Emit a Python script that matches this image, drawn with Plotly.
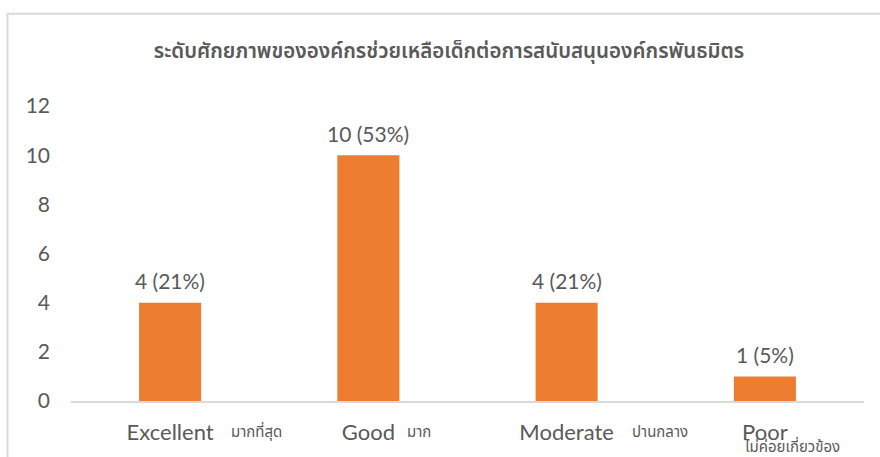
import plotly.graph_objects as go

categories = ["Excellent", "Good", "Moderate", "Poor"]
thai_labels = ["มากที่สุด", "มาก", "ปานกลาง", "ไม่ค่อยเกี่ยวข้อง"]
values = [4, 10, 4, 1]
percents = [21, 53, 21, 5]
y_ticks = [0, 2, 4, 6, 8, 10, 12]
title_text = "ระดับศักยภาพขององค์กรช่วยเหลือเด็กต่อการสนับสนุนองค์กรพันธมิตร"

TEXT = "#595959"
FONT = "Lato, 'Open Sans', sans-serif"
THAI_FONT = "'Noto Sans Thai', Tahoma, 'DejaVu Sans', sans-serif"

fig = go.Figure()
fig.add_trace(go.Bar(
    x=categories, y=values,
    marker=dict(color="#ED7D31", line=dict(width=0)),
    hoverinfo="skip",
))

# data labels
for c, v, p in zip(categories, values, percents):
    fig.add_annotation(x=c, y=v, text=f"{v} ({p}%)", showarrow=False,
                       yanchor="middle", yshift=22,
                       font=dict(family=FONT, size=21, color=TEXT))

# Thai category notes
offsets = [59, 37, 63, -23]
rows = [0, 0, 0, 1]
for c, t, dx, r in zip(categories, thai_labels, offsets, rows):
    fig.add_annotation(x=c, xref="x", y=-0.107 if r == 0 else -0.158, yref="paper",
                       text=t, showarrow=False, xanchor="left", yanchor="middle",
                       xshift=dx, font=dict(family=THAI_FONT, size=15, color=TEXT))

# chart-area border (left and top)
fig.add_shape(type="path", xref="paper", yref="paper",
              path="M -0.0801,-0.2 L -0.0801,1.313 L 1.03,1.313",
              line=dict(color="#D9D9D9", width=2))

fig.update_layout(
    width=880, height=457,
    margin=dict(l=71, r=16, t=106, b=54),
    paper_bgcolor="white", plot_bgcolor="white",
    showlegend=False,
    bargap=0.687,
    title=dict(text=title_text, x=449/880, xanchor="center", y=1 - 51/457, yanchor="middle",
               font=dict(family=THAI_FONT, size=20.5, color=TEXT, weight=600)),
    xaxis=dict(showgrid=False, showline=True, linecolor="#D9D9D9", linewidth=1.5,
               ticks="", tickfont=dict(family=FONT, size=22, color=TEXT),
               ticklabelstandoff=11, zeroline=False),
    yaxis=dict(range=[0, 12], tickvals=y_ticks, showgrid=False, showline=False,
               zeroline=False, ticks="", tickfont=dict(family=FONT, size=21, color=TEXT),
               ticklabelstandoff=20),
)

fig.write_html("out.html", config={"displayModeBar": False},
               post_script="document.body.style.margin='0';document.body.style.overflow='hidden';")
